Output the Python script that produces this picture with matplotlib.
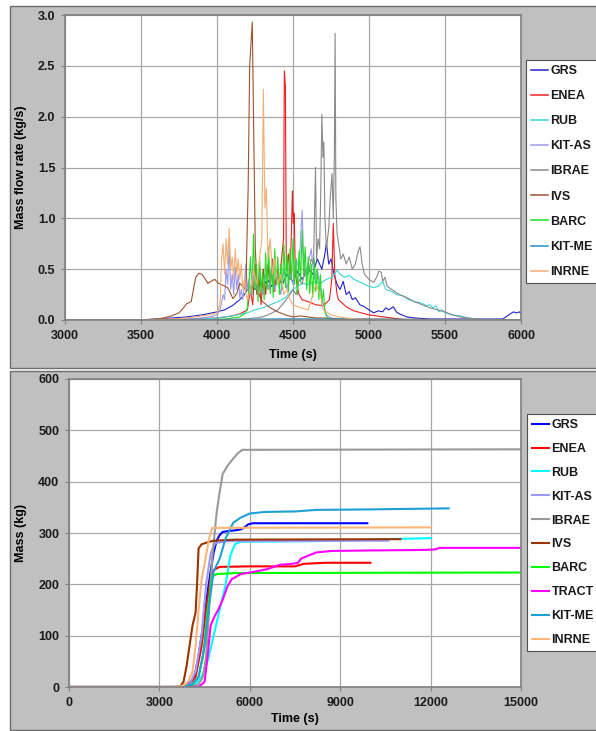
import matplotlib
matplotlib.use("Agg")
import matplotlib.pyplot as plt
from matplotlib.patches import Rectangle

plt.rcParams['font.family'] = ['Liberation Sans', 'DejaVu Sans']
plt.rcParams['font.weight'] = 'bold'

# ---- top panel: mass flow rate (kg/s) vs time (s) ----
t_grs = [3000, 3500, 3600, 3700, 3800, 3900, 4000, 4050, 4100, 4150, 4180, 4200, 4220, 4250, 4280, 4300,
         4330, 4360, 4400, 4430, 4460, 4500, 4530, 4560, 4600, 4630, 4660, 4690, 4710, 4720, 4735, 4750,
         4770, 4790, 4810, 4830, 4850, 4870, 4890, 4910, 4940, 4970, 5000, 5030, 5060, 5090, 5110, 5130,
         5160, 5180, 5200, 5250, 5300, 5400, 5600, 5800, 5880, 5900, 5930, 5950, 5970, 5990, 6000]
q_grs = [0, 0, 0.01, 0.02, 0.03, 0.05, 0.08, 0.1, 0.14, 0.2, 0.25, 0.3, 0.33, 0.3, 0.36, 0.32,
         0.4, 0.33, 0.42, 0.35, 0.45, 0.38, 0.48, 0.4, 0.5, 0.45, 0.6, 0.5, 0.65, 0.76, 0.55, 0.6,
         0.45, 0.35, 0.3, 0.38, 0.25, 0.28, 0.2, 0.22, 0.15, 0.13, 0.1, 0.07, 0.09, 0.08, 0.12, 0.1,
         0.13, 0.08, 0.06, 0.03, 0.02, 0.01, 0.01, 0.01, 0.01, 0.03, 0.06, 0.08, 0.07, 0.08, 0.06]

t_enea = [3000, 3500, 3800, 4000, 4100, 4150, 4200, 4220, 4235, 4250, 4262, 4275, 4290, 4305, 4320, 4335,
          4350, 4365, 4380, 4395, 4410, 4425, 4438, 4443, 4450, 4456, 4470, 4480, 4490, 4496, 4502, 4508,
          4515, 4525, 4540, 4560, 4600, 4650, 4700, 4740, 4755, 4765, 4775, 4790, 4800, 4850, 4900, 4950,
          5000, 5050, 5100, 5150, 5200, 5250, 6000]
q_enea = [0, 0, 0.01, 0.02, 0.04, 0.06, 0.1, 0.3, 0.15, 0.55, 0.25, 0.45, 0.15, 0.5, 0.25, 0.55,
          0.3, 0.6, 0.28, 0.5, 0.35, 0.6, 0.8, 2.45, 2.3, 0.5, 0.65, 0.4, 0.9, 1.27, 0.95, 1.05,
          0.5, 0.35, 0.25, 0.2, 0.18, 0.15, 0.14, 0.2, 0.4, 0.95, 0.45, 0.25, 0.2, 0.13, 0.09, 0.07,
          0.05, 0.04, 0.03, 0.02, 0.01, 0, 0]

t_rub = [3000, 3700, 3900, 4000, 4100, 4200, 4250, 4300, 4350, 4400, 4450, 4480, 4500, 4530, 4560, 4600,
         4640, 4680, 4720, 4760, 4790, 4810, 4840, 4870, 4900, 4930, 4960, 5000, 5030, 5060, 5090, 5110,
         5150, 5180, 5220, 5260, 5300, 5340, 5380, 5400, 5420, 5440, 5460, 5480, 5500, 5550, 5600, 5650,
         5700, 5800, 6000]
q_rub = [0, 0, 0.01, 0.02, 0.04, 0.07, 0.1, 0.12, 0.15, 0.18, 0.22, 0.27, 0.3, 0.33, 0.36, 0.35,
         0.38, 0.36, 0.4, 0.42, 0.49, 0.45, 0.42, 0.44, 0.4, 0.38, 0.36, 0.33, 0.32, 0.33, 0.38, 0.3,
         0.28, 0.25, 0.24, 0.2, 0.18, 0.17, 0.14, 0.15, 0.12, 0.14, 0.08, 0.1, 0.07, 0.05, 0.04, 0.02,
         0.01, 0, 0]

t_kitas = [3000, 3600, 3800, 3900, 3950, 4000, 4020, 4040, 4050, 4060, 4070, 4080, 4090, 4100, 4110, 4120,
           4130, 4140, 4150, 4160, 4170, 4180, 4190, 4200, 4210, 4220, 4240, 4260, 4280, 4300, 4320, 4340,
           4360, 4380, 4400, 4420, 4440, 4460, 4480, 4500, 4520, 4540, 4550, 4560, 4570, 4580, 4600, 4620,
           4640, 4660, 4680, 4700, 4720, 4750, 4800, 5000, 6000]
q_kitas = [0, 0, 0.01, 0.02, 0.03, 0.05, 0.1, 0.25, 0.2, 0.5, 0.35, 0.74, 0.3, 0.45, 0.25, 0.52,
           0.3, 0.45, 0.22, 0.3, 0.2, 0.35, 0.55, 0.3, 0.4, 0.25, 0.45, 0.3, 0.5, 0.25, 0.45, 0.3,
           0.55, 0.3, 0.4, 0.25, 0.5, 0.3, 0.45, 0.35, 0.6, 0.5, 0.8, 1.08, 0.6, 0.45, 0.55, 0.7,
           0.4, 0.5, 0.3, 0.15, 0.05, 0.02, 0.01, 0, 0]

t_ibrae = [3000, 4000, 4200, 4300, 4350, 4400, 4440, 4480, 4500, 4520, 4540, 4560, 4580, 4600, 4620, 4635,
           4648, 4655, 4665, 4675, 4683, 4690, 4697, 4703, 4710, 4720, 4735, 4745, 4757, 4765, 4772, 4777,
           4782, 4790, 4800, 4815, 4830, 4850, 4870, 4890, 4910, 4930, 4941, 4955, 4970, 5000, 5030, 5050,
           5065, 5080, 5090, 5105, 5120, 5150, 5200, 5250, 5300, 5350, 5400, 5450, 5500, 5550, 5600, 5650,
           5700, 5800, 6000]
q_ibrae = [0, 0, 0.01, 0.03, 0.06, 0.1, 0.17, 0.25, 0.3, 0.25, 0.4, 0.35, 0.5, 0.45, 0.6, 0.55,
           1.5, 0.6, 0.8, 0.7, 1.3, 2.02, 1.6, 1.75, 1.0, 0.7, 0.9, 1.2, 1.44, 1.0, 1.6, 2.82,
           1.2, 0.85, 0.75, 0.6, 0.65, 0.55, 0.62, 0.5, 0.55, 0.68, 0.72, 0.55, 0.45, 0.4, 0.37, 0.42,
           0.48, 0.47, 0.38, 0.42, 0.33, 0.3, 0.25, 0.22, 0.18, 0.15, 0.12, 0.1, 0.08, 0.05, 0.03, 0.02,
           0.01, 0, 0]

t_ivs = [3000, 3500, 3600, 3650, 3700, 3750, 3780, 3800, 3830, 3860, 3880, 3900, 3920, 3940, 3960, 3985,
         4010, 4040, 4070, 4105, 4130, 4150, 4170, 4190, 4205, 4215, 4232, 4242, 4252, 4265, 4285, 4300,
         4350, 4400, 4450, 4500, 4550, 4600, 4650, 4700, 4800, 4900, 6000]
q_ivs = [0, 0, 0.01, 0.02, 0.04, 0.07, 0.12, 0.16, 0.18, 0.42, 0.46, 0.45, 0.41, 0.36, 0.38, 0.40,
         0.36, 0.34, 0.32, 0.21, 0.26, 0.36, 0.33, 0.3, 1.3, 2.5, 2.93, 1.8, 0.7, 0.3, 0.22, 0.18,
         0.12, 0.08, 0.05, 0.03, 0.04, 0.03, 0.02, 0.02, 0.01, 0.01, 0]

t_barc = [3000, 3900, 4050, 4100, 4150, 4160, 4170, 4180, 4190, 4200, 4210, 4220, 4230, 4240, 4250, 4260,
          4270, 4280, 4290, 4300, 4310, 4320, 4330, 4340, 4350, 4360, 4370, 4380, 4390, 4400, 4410, 4420,
          4430, 4440, 4450, 4460, 4470, 4480, 4490, 4500, 4510, 4520, 4530, 4540, 4550, 4560, 4570, 4580,
          4590, 4600, 4610, 4620, 4630, 4640, 4650, 4660, 4670, 4680, 4690, 4700, 4710, 4720, 4730, 4740,
          4750, 6000]
q_barc = [0, 0, 0.01, 0.02, 0.03, 0.04, 0.05, 0.06, 0.08, 0.12, 0.35, 0.62, 0.25, 0.84, 0.30, 0.55,
          0.18, 0.62, 0.28, 0.48, 0.20, 0.66, 0.30, 0.72, 0.26, 0.58, 0.22, 0.70, 0.35, 0.62, 0.25, 0.55,
          0.30, 0.75, 0.32, 0.64, 0.28, 0.70, 0.40, 0.80, 0.35, 0.60, 0.25, 0.68, 0.38, 0.88, 0.45, 0.72,
          0.30, 0.62, 0.26, 0.55, 0.22, 0.60, 0.28, 0.50, 0.20, 0.45, 0.15, 0.30, 0.08, 0.04, 0.02, 0.01,
          0, 0]

t_kitme = [3000, 3800, 4000, 4300, 4500, 4700, 5000, 5500, 6000]
q_kitme = [0, 0, 0.005, 0.01, 0.012, 0.01, 0.008, 0.005, 0]

t_inrne = [3000, 3500, 3700, 3800, 3900, 3950, 4000, 4020, 4030, 4040, 4050, 4060, 4070, 4080, 4090, 4100,
           4110, 4120, 4130, 4140, 4150, 4160, 4170, 4180, 4190, 4200, 4220, 4240, 4260, 4280, 4295, 4305,
           4315, 4325, 4335, 4350, 4365, 4380, 4400, 4420, 4440, 4460, 4480, 4500, 4550, 4600, 4650, 4680,
           4700, 4750, 4800, 4900, 5000, 6000]
q_inrne = [0, 0, 0.01, 0.02, 0.04, 0.05, 0.07, 0.15, 0.6, 0.75, 0.45, 0.8, 0.55, 0.9, 0.5, 0.62,
           0.4, 0.7, 0.45, 0.6, 0.4, 0.55, 0.3, 0.4, 0.25, 0.2, 0.3, 0.5, 0.35, 0.6, 0.8, 2.27,
           1.1, 1.3, 0.6, 0.8, 0.45, 0.6, 0.35, 0.45, 0.25, 0.3, 0.2, 0.15, 0.12, 0.1, 0.35, 0.25,
           0.1, 0.05, 0.03, 0.01, 0, 0]

# ---- bottom panel: mass (kg) vs time (s) ----
t_m_grs = [0, 3500, 3700, 3900, 4000, 4100, 4200, 4300, 4400, 4500, 4600, 4700, 4800, 4900, 5000, 5100,
           5300, 5500, 5700, 5850, 5950, 6100, 7000, 9900]
m_grs = [0, 0, 1, 4, 8, 15, 30, 60, 100, 140, 185, 225, 262, 285, 296, 302,
         304, 305, 307, 312, 317, 319, 319, 319]

t_m_enea = [0, 3700, 4000, 4200, 4400, 4550, 4700, 4800, 5000, 6000, 7500, 7800, 8500, 10000]
m_enea = [0, 0, 5, 20, 80, 150, 210, 228, 234, 235, 235, 240, 242, 242]

t_m_rub = [0, 3900, 4200, 4400, 4600, 4800, 5000, 5200, 5350, 5500, 5700, 8000, 9500, 10500, 12000]
m_rub = [0, 0, 5, 20, 50, 100, 150, 200, 255, 278, 283, 284, 286, 288, 290]

t_m_kitas = [0, 3700, 4000, 4200, 4400, 4550, 4700, 4850, 5200, 10600]
m_kitas = [0, 0, 5, 30, 100, 200, 260, 280, 284, 285]

t_m_ibrae = [0, 4000, 4300, 4450, 4550, 4650, 4750, 4900, 5000, 5100, 5250, 5450, 5600, 5750, 15000]
m_ibrae = [0, 0, 5, 20, 60, 150, 250, 340, 380, 415, 430, 445, 455, 462, 463]

t_m_ivs = [0, 3600, 3700, 3800, 3900, 4000, 4100, 4200, 4250, 4300, 4400, 4600, 4800, 5500, 11000]
m_ivs = [0, 0, 2, 10, 40, 80, 120, 145, 200, 270, 278, 282, 285, 287, 288]

t_m_barc = [0, 3800, 4100, 4300, 4450, 4600, 4750, 4900, 5500, 15000]
m_barc = [0, 0, 5, 20, 60, 150, 215, 220, 222, 223]

t_m_tract = [0, 4300, 4500, 4600, 4700, 4850, 4950, 5100, 5250, 5400, 5700, 6200, 6600, 7000, 7400, 7600,
             7700, 7900, 8200, 8700, 10000, 11800, 12150, 12300, 15000]
m_tract = [0, 0, 10, 60, 120, 140, 150, 170, 195, 210, 220, 225, 230, 238, 240, 242,
           250, 255, 262, 265, 266, 267, 268, 271, 271]

t_m_kitme = [0, 3800, 4100, 4300, 4500, 4650, 4800, 5000, 5200, 5450, 5700, 6000, 6500, 7500, 8200, 10000, 12600]
m_kitme = [0, 0, 5, 20, 80, 160, 225, 250, 290, 320, 330, 338, 341, 342, 345, 346, 348]

t_m_inrne = [0, 3500, 3800, 3950, 4100, 4200, 4300, 4400, 4500, 4650, 4750, 12000]
m_inrne = [0, 0, 3, 10, 30, 80, 150, 210, 240, 290, 310, 311]

W, H = 596, 731
fig = plt.figure(figsize=(W / 100, H / 100), dpi=100)
fig.patch.set_facecolor('white')

def figRect(x0, y0, x1, y1):
    '''pixel box (top-left origin) -> figure fraction [left, bottom, width, height]'''
    return [x0 / W, 1 - y1 / H, (x1 - x0) / W, (y1 - y0) / H]

# grey chart-area backgrounds (drawn below the axes)
for (y0, y1) in [(6, 368), (371, 730)]:
    r = figRect(10, y0, 600, y1)
    fig.patches.append(Rectangle((r[0], r[1]), r[2], r[3], transform=fig.transFigure,
                                 facecolor='#C0C0C0', edgecolor='#6E6E6E', linewidth=1.0, zorder=-5))

def styleAxes(ax):
    ax.set_facecolor('white')
    for s in ax.spines.values():
        s.set_color('#808080')
        s.set_linewidth(1.2)
    ax.grid(True, color='#A8A8A8', linewidth=0.9)
    ax.set_axisbelow(True)
    ax.tick_params(direction='out', length=3, width=0.8, color='#808080',
                   labelsize=9, labelcolor='#1A1A1A', pad=4)
    for lbl in ax.get_xticklabels() + ax.get_yticklabels():
        lbl.set_fontweight('bold')

def addLegend(ax, anchor_px, spacing, handle_lw):
    leg = ax.legend(loc='upper left', bbox_to_anchor=(anchor_px[0] / W, 1 - anchor_px[1] / H),
                    bbox_transform=fig.transFigure, fontsize=9, frameon=True, fancybox=False,
                    edgecolor='#505050', framealpha=1, borderaxespad=0, borderpad=0.4,
                    handlelength=1.35, handletextpad=0.2, labelspacing=spacing)
    leg.get_frame().set_linewidth(0.8)
    for ln in leg.get_lines():
        ln.set_linewidth(handle_lw)
    for txt in leg.get_texts():
        txt.set_fontweight('bold')
        txt.set_color('#1A1A1A')

# top chart
ax1 = fig.add_axes(figRect(65, 15, 521, 320))
lw1 = 0.8
ax1.plot(t_grs, q_grs, color='#2323C8', lw=lw1, label='GRS')
ax1.plot(t_enea, q_enea, color='#EE2020', lw=lw1, label='ENEA')
ax1.plot(t_rub, q_rub, color='#3ED6D6', lw=lw1, label='RUB')
ax1.plot(t_kitas, q_kitas, color='#9A9AF0', lw=lw1, label='KIT-AS')
ax1.plot(t_ibrae, q_ibrae, color='#8A8A8A', lw=lw1, label='IBRAE')
ax1.plot(t_ivs, q_ivs, color='#A0522D', lw=lw1, label='IVS')
ax1.plot(t_barc, q_barc, color='#22DD22', lw=lw1, label='BARC')
ax1.plot(t_kitme, q_kitme, color='#2090C8', lw=lw1, label='KIT-ME')
ax1.plot(t_inrne, q_inrne, color='#F5AE74', lw=lw1, label='INRNE')
ax1.set_xlim(3000, 6000)
ax1.set_ylim(0, 3.0)
ax1.set_xticks([3000, 3500, 4000, 4500, 5000, 5500, 6000])
ax1.set_yticks([0.0, 0.5, 1.0, 1.5, 2.0, 2.5, 3.0])
ax1.set_yticklabels(['0.0', '0.5', '1.0', '1.5', '2.0', '2.5', '3.0'])
styleAxes(ax1)
ax1.set_xlabel('Time (s)', fontsize=9, fontweight='bold', labelpad=5)
ax1.set_ylabel('Mass flow rate (kg/s)', fontsize=9, fontweight='bold', labelpad=8)
addLegend(ax1, (526, 60), 1.05, 1.1)

# bottom chart
ax2 = fig.add_axes(figRect(69, 379, 521, 687))
lw2 = 1.5
ax2.plot(t_m_grs, m_grs, color='#0000FF', lw=lw2, label='GRS')
ax2.plot(t_m_enea, m_enea, color='#FF0000', lw=lw2, label='ENEA')
ax2.plot(t_m_rub, m_rub, color='#00FFFF', lw=lw2, label='RUB')
ax2.plot(t_m_kitas, m_kitas, color='#9999FF', lw=lw2, label='KIT-AS')
ax2.plot(t_m_ibrae, m_ibrae, color='#999999', lw=lw2, label='IBRAE')
ax2.plot(t_m_ivs, m_ivs, color='#993300', lw=lw2, label='IVS')
ax2.plot(t_m_barc, m_barc, color='#00FF00', lw=lw2, label='BARC')
ax2.plot(t_m_tract, m_tract, color='#FF00FF', lw=lw2, label='TRACT')
ax2.plot(t_m_kitme, m_kitme, color='#1EA0D4', lw=lw2, label='KIT-ME')
ax2.plot(t_m_inrne, m_inrne, color='#FFB478', lw=lw2, label='INRNE')
ax2.set_xlim(0, 15000)
ax2.set_ylim(0, 600)
ax2.set_xticks([0, 3000, 6000, 9000, 12000, 15000])
ax2.set_yticks([0, 100, 200, 300, 400, 500, 600])
styleAxes(ax2)
ax2.set_xlabel('Time (s)', fontsize=9, fontweight='bold', labelpad=3)
ax2.set_ylabel('Mass (kg)', fontsize=9, fontweight='bold', labelpad=8)
addLegend(ax2, (527, 414), 0.95, 1.5)

fig.savefig('out.png', dpi=100, facecolor=fig.get_facecolor())
